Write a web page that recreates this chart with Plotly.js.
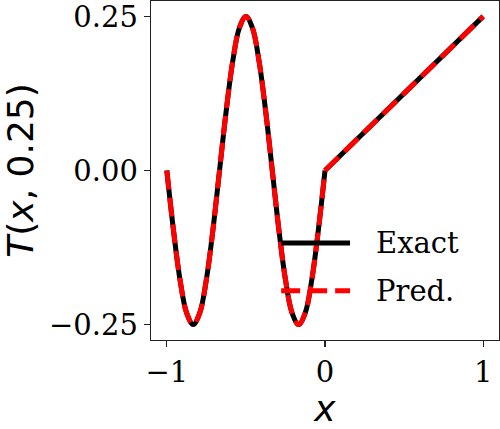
<!DOCTYPE html>
<html>
<head>
<meta charset="utf-8">
<script src="https://cdn.plot.ly/plotly-3.0.1.min.js"></script>
<style>
  html, body { margin: 0; padding: 0; background: #fff; }
  #chart { width: 500px; height: 429px; }
</style>
</head>
<body>
<div id="chart"></div>
<script>
// x < 0: oscillating part, every 1/24
const xWave = [-1, -0.9583, -0.9167, -0.875, -0.8333, -0.7917, -0.75, -0.7083,
    -0.6667, -0.625, -0.5833, -0.5417, -0.5, -0.4583, -0.4167, -0.375,
    -0.3333, -0.2917, -0.25, -0.2083, -0.1667, -0.125, -0.0833, -0.0417, 0];
const exactWave = [0, -0.096, -0.177, -0.231, -0.25, -0.231, -0.177, -0.096,
    0, 0.096, 0.177, 0.231, 0.25, 0.231, 0.177, 0.096,
    0, -0.096, -0.177, -0.231, -0.25, -0.231, -0.177, -0.096, 0];
const predWave = [0, -0.096, -0.177, -0.231, -0.25, -0.231, -0.177, -0.096,
    0, 0.096, 0.177, 0.231, 0.25, 0.231, 0.177, 0.096,
    0, -0.096, -0.177, -0.231, -0.25, -0.231, -0.177, -0.096, 0];
// x >= 0: straight part
const xRamp = [0, 1];
const exactRamp = [0, 0.25];
const predRamp = [0, 0.25];

const xTicks = [-1, 0, 1];
const yTicks = [-0.25, 0, 0.25];
const names = ['Exact', 'Pred.'];

const exactLine = { color: '#000000', width: 5 };
const predLine = { color: '#ff0000', width: 5, dash: '19px,8px' };

const data = [
    { x: xWave, y: exactWave, mode: 'lines', name: names[0], line: Object.assign({ shape: 'spline', smoothing: 1 }, exactLine) },
    { x: xRamp, y: exactRamp, mode: 'lines', name: names[0], line: exactLine },
    { x: xWave, y: predWave, mode: 'lines', name: names[1], line: Object.assign({ shape: 'spline', smoothing: 1 }, predLine) },
    { x: xRamp, y: predRamp, mode: 'lines', name: names[1], line: predLine }
];

const axisCommon = {
    showline: true,
    mirror: true,
    linecolor: '#222222',
    linewidth: 1.3,
    ticks: 'outside',
    ticklen: 6,
    tickwidth: 1.3,
    tickcolor: '#222222',
    showgrid: false,
    zeroline: false,
    ticklabeloverflow: 'allow',
    tickfont: { family: 'DejaVu Serif', size: 29, color: '#000' }
};

const legendText = { family: 'DejaVu Serif', size: 29, color: '#000' };

const layout = {
    width: 500,
    height: 429,
    margin: { l: 151, r: 1, t: 1, b: 89 },
    paper_bgcolor: '#ffffff',
    plot_bgcolor: '#ffffff',
    showlegend: false,
    xaxis: Object.assign({}, axisCommon, {
        range: [-1.1, 1.1],
        tickvals: xTicks,
        ticktext: xTicks.map(v => v < 0 ? '\u2212' + Math.abs(v) : String(v)),
        title: { text: '<i>x</i>', font: { family: 'DejaVu Sans', size: 36, color: '#000' }, standoff: 8 }
    }),
    yaxis: Object.assign({}, axisCommon, {
        range: [-0.275, 0.275],
        tickvals: yTicks,
        ticktext: yTicks.map(v => (v < 0 ? '\u2212' : '') + Math.abs(v).toFixed(2)),
        title: { text: '<i>T</i>(<i>x</i>, 0.25)', font: { family: 'DejaVu Sans', size: 36, color: '#000' }, standoff: 10 }
    }),
    shapes: [
        { type: 'line', xref: 'paper', yref: 'paper', x0: 0.374, x1: 0.572, y0: 0.286, y1: 0.286, line: exactLine },
        { type: 'line', xref: 'paper', yref: 'paper', x0: 0.374, x1: 0.572, y0: 0.145, y1: 0.145, line: predLine }
    ],
    annotations: [
        { xref: 'paper', yref: 'paper', x: 0.641, y: 0.286, xanchor: 'left', yanchor: 'middle', text: names[0], showarrow: false, font: legendText },
        { xref: 'paper', yref: 'paper', x: 0.641, y: 0.145, xanchor: 'left', yanchor: 'middle', text: names[1], showarrow: false, font: legendText }
    ]
};

Plotly.newPlot('chart', data, layout, { displayModeBar: false, staticPlot: true });
</script>
</body>
</html>
